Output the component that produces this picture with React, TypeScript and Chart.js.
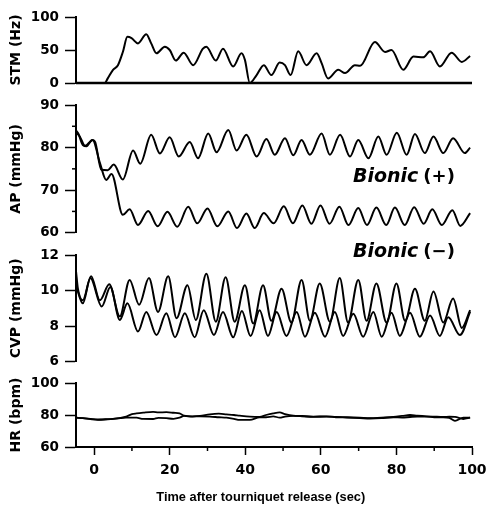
import React, { useEffect, useRef } from "react";
import { Chart, registerables } from "chart.js";

Chart.register(...registerables);

type P = [number, number];

// ---------- axes / ticks ----------
const X_MIN = -4.8;
const X_MAX = 100;
const X_TICKS = [0, 20, 40, 60, 80, 100];
const X_MINOR_TICKS = [10, 30, 50, 70, 90];
const X_TITLE = "Time after tourniquet release (sec)";
const X_TITLE_AT = 44.1;

const STM_TICKS = [0, 50, 100];
const STM_BASELINE = 0;
const AP_TICKS = [60, 70, 80, 90];
const AP_MINOR_TICKS = [65, 75, 85];
const CVP_TICKS = [6, 8, 10, 12];
const HR_TICKS = [60, 80, 100];

// ---------- series ----------
const STM: P[] = [
  [-4.8, 0], [2.8, 0], [3.6, 7], [5, 20], [6.3, 27], [7.6, 47], [8.8, 70], [9.9, 68],
  [11.6, 60], [13.8, 74], [15.1, 60], [16.5, 45], [18.7, 55], [20, 50], [21.6, 34],
  [23.7, 46], [26.2, 27], [28.8, 52], [29.7, 55], [32.2, 34], [34.1, 52], [36.8, 25],
  [39, 45], [39.9, 35], [41.2, 0], [43, 12], [44.9, 27], [46.9, 12], [49.1, 31],
  [50.5, 27], [52, 12], [54, 48], [56.2, 27], [58.9, 45], [60.2, 30], [61.9, 7],
  [64.6, 20], [66.4, 15], [69, 27], [70.4, 26], [74.3, 62], [77, 47], [78.7, 50],
  [81.8, 20], [84.5, 40], [87.1, 39], [88.9, 48], [91.5, 25], [94.6, 46], [97.3, 32],
  [99.5, 41],
];

const AP_PLUS: P[] = [
  [-4.8, 84], [-4.2, 83.3], [-3.0, 80.6], [-2.0, 80.3], [-0.5, 81.8], [0.3, 81.2],
  [1.9, 74.8], [3.6, 74.7], [5.2, 76.0], [7.6, 72.5], [10.3, 79.3], [12.2, 76.2],
  [15.1, 83.0], [17.4, 78.6], [20.0, 82.4], [22.4, 77.9], [25.3, 81.3], [27.5, 77.5],
  [30.2, 83.3], [32.4, 78.9], [35.5, 84.1], [37.7, 79.3], [40.3, 83.0], [43.0, 77.9],
  [45.6, 82.0], [47.8, 78.3], [50.5, 82.2], [52.7, 78.2], [54.9, 81.8], [57.1, 78.3],
  [60.2, 83.3], [62.4, 78.3], [65.1, 83.0], [67.7, 77.9], [69.9, 81.8], [72.6, 77.5],
  [75.2, 82.6], [77.4, 78.3], [80.1, 83.5], [82.7, 78.3], [84.9, 83.2], [87.5, 78.7],
  [89.8, 82.6], [92.4, 78.7], [95.0, 82.2], [98.1, 78.7], [99.5, 80.0],
];

const AP_MINUS: P[] = [
  [-4.8, 83.6], [-3.8, 82.6], [-2.4, 80.4], [-0.4, 81.8], [1.5, 76.5], [3.2, 72.4],
  [4.6, 73.8], [7.6, 64.2], [9.4, 65.5], [11.6, 61.8], [14.3, 65.1], [16.8, 61.5],
  [19.4, 64.9], [22.0, 61.4], [24.9, 66.1], [27.3, 62.2], [30.0, 65.7], [32.6, 61.5],
  [35.5, 65.0], [37.8, 61.1], [40.3, 64.5], [42.5, 61.1], [44.9, 64.6], [47.5, 62.2],
  [50.2, 66.2], [52.6, 62.2], [55.1, 66.4], [57.5, 62.1], [59.9, 66.4], [62.3, 62.1],
  [64.9, 66.1], [67.3, 61.8], [69.9, 65.8], [72.2, 61.8], [74.7, 65.9], [77.3, 61.8],
  [79.6, 65.9], [82.2, 61.8], [84.7, 66.0], [87.2, 62.1], [89.5, 65.5], [92.0, 61.8],
  [94.8, 65.3], [96.9, 61.6], [99.5, 64.6],
];

const CVP_PLUS: P[] = [
  [-4.8, 11.1], [-4.3, 10.1], [-3, 9.45], [-0.8, 10.8], [1.5, 9.45], [4, 10.35], [6.8, 8.55],
  [9.4, 10.6], [11.9, 9.2], [14.5, 10.7], [16.9, 8.8], [19.6, 10.8], [21.8, 8.45],
  [24.7, 10.3], [26.9, 8.35], [29.7, 10.95], [32.2, 8.25], [34.8, 10.75], [37.2, 8.25],
  [39.9, 10.3], [42.1, 8.15], [44.7, 10.3], [46.9, 8.3], [49.6, 10.1], [52.2, 8.2],
  [54.9, 10.6], [57.1, 8.3], [59.7, 10.4], [62.4, 8.25], [65, 10.7], [67.2, 8.2],
  [69.9, 10.6], [72.1, 8.3], [74.7, 10.4], [77.4, 8.2], [80, 10.4], [82.3, 8.3],
  [84.9, 10.1], [87.5, 8.3], [89.8, 9.95], [92.4, 8.2], [95, 9.55], [97.3, 7.9],
  [99.5, 8.9],
];

const CVP_MINUS: P[] = [
  [-4.8, 10.3], [-3, 9.28], [-1, 10.7], [2, 9.1], [4.3, 10.2], [6.8, 8.35],
  [8.8, 9.28], [11.6, 7.7], [13.8, 8.8], [16.5, 7.5], [19.1, 8.72], [21.4, 7.37],
  [24, 8.72], [26.6, 7.37], [29, 8.9], [31.7, 7.5], [34.1, 8.8], [36.8, 7.37],
  [39.1, 8.85], [41.4, 7.44], [43.8, 8.9], [46, 7.45], [48.3, 8.8], [50.9, 7.45],
  [53.6, 8.8], [55.8, 7.4], [58.4, 8.75], [61.1, 7.4], [63.7, 8.8], [65.9, 7.45],
  [68.6, 8.7], [71.2, 7.4], [73.9, 8.8], [76.1, 7.4], [78.7, 8.75], [80.9, 7.45],
  [83.6, 8.75], [86.2, 7.4], [88.9, 8.6], [91.5, 7.45], [93.7, 8.5], [96.8, 7.5],
  [99.5, 8.8],
];

const HR_PLUS: P[] = [
  [-4.8, 78.3], [-3, 78], [-1, 77.6], [1, 77.2], [3, 77.4], [5, 77.6], [7, 78.2],
  [8.5, 79], [10, 80.5], [11.2, 81], [13, 81.5], [15.6, 82], [17, 81.6], [19.1, 81.8],
  [21, 81.4], [22.6, 81], [23.8, 79.6], [26, 79.2], [28, 79.4], [30.6, 80.4], [33, 80.8],
  [35, 80.4], [37, 80], [38.5, 79.6], [41.2, 79], [43.8, 78.8], [45.5, 80], [47.4, 81],
  [49.1, 81.6], [50.5, 80.6], [52.7, 79.6], [55, 79.4], [58, 79], [61.5, 79.2], [64, 78.8],
  [67, 78.6], [70.3, 78.3], [73, 78], [76, 78.4], [79.2, 78.8], [81.5, 79.4], [83.6, 80],
  [85.5, 79.6], [88, 79.2], [90, 79], [92.4, 78.8], [94, 78.9], [95.5, 78.8], [97.7, 77.5],
  [99.5, 78.3],
];

const HR_MINUS: P[] = [
  [-4.8, 78.3], [-3, 78], [-1, 77.4], [1, 77], [3, 77.2], [5, 77.6], [7, 78],
  [8.5, 78.4], [11.2, 78.3], [13, 77.6], [15.6, 77.5], [17, 78.2], [19.1, 78], [21, 77.6],
  [22.6, 78.3], [23.8, 79.4], [26, 79], [28, 79.2], [30.6, 79], [33, 78.6], [35, 78.3],
  [37, 77.6], [38.5, 76.9], [41.2, 76.9], [43.8, 78.6], [45.5, 78.6], [47.4, 79.2],
  [49.1, 78.3], [50.5, 79], [52.7, 79.4], [55, 79.2], [58, 78.8], [61.5, 79], [64, 78.6],
  [67, 78.4], [70.3, 78.1], [73, 77.8], [76, 78], [79.2, 78.6], [81.5, 78.4], [83.6, 78.75],
  [85.5, 79], [88, 79], [90, 78.6], [92.4, 78.6], [94, 78.2], [95.5, 76.3], [97.7, 78.3],
  [99.5, 78.3],
];

// annotation labels (anchored in x / AP-axis values)
const ANNOTATIONS = [
  { name: "Bionic", sign: "(+)", x: 68.5, ap: 72.0 },
  { name: "Bionic", sign: "(\u2212)", x: 68.5, ap: 54.2 },
];

const toXY = (arr: P[]) => arr.map(([x, y]) => ({ x, y }));

const TICK_FONT = { family: "DejaVu Sans", size: 13.5, weight: "bold" as const };
const Y_TITLE_FONT = { family: "DejaVu Sans", size: 14, weight: "bold" as const };
const AXIS_W = 76;

function yAxis(
  min: number, max: number, weight: number, order: number, title: string, ticks: number[]
) {
  return {
    type: "linear",
    position: "left",
    stack: "panels",
    stackWeight: weight,
    weight: order,
    min,
    max,
    afterBuildTicks: (s: any) => {
      s.ticks = ticks.map((v) => ({ value: v }));
    },
    afterFit: (s: any) => {
      s.width = AXIS_W;
    },
    ticks: { font: TICK_FONT, color: "#000", padding: 6, autoSkip: false },
    grid: {
      drawOnChartArea: false,
      color: "rgba(0,0,0,0)",
      tickLength: 11,
      tickColor: "#000",
      tickWidth: 1.5,
    },
    border: { display: true, color: "#000", width: 2 },
    title: {
      display: true,
      text: title,
      font: Y_TITLE_FONT,
      color: "#000",
      padding: { top: 7.5, bottom: 0 },
    },
  };
}

function gapAxis(weight: number, order: number) {
  return {
    type: "linear",
    position: "left",
    stack: "panels",
    stackWeight: weight,
    weight: order,
    min: 0,
    max: 1,
    afterFit: (s: any) => {
      s.width = AXIS_W;
    },
    ticks: { display: false },
    grid: { display: false },
    border: { display: false },
    title: { display: false },
  };
}

const decorPlugin = {
  id: "decor",
  afterDraw(chart: any) {
    const ctx = chart.ctx;
    const xs = chart.scales.x;
    const ap = chart.scales.yAP;
    const ys = chart.scales.yS;
    ctx.save();
    ctx.strokeStyle = "#000";
    // STM zero baseline across the panel
    const y0 = ys.getPixelForValue(STM_BASELINE);
    ctx.lineWidth = 2.5;
    ctx.beginPath();
    ctx.moveTo(xs.left, y0);
    ctx.lineTo(xs.right, y0);
    ctx.stroke();

    ctx.lineWidth = 1.5;
    X_MINOR_TICKS.forEach((v) => {
      const px = xs.getPixelForValue(v);
      ctx.beginPath();
      ctx.moveTo(px, xs.top);
      ctx.lineTo(px, xs.top + 4);
      ctx.stroke();
    });
    AP_MINOR_TICKS.forEach((v) => {
      const py = ap.getPixelForValue(v);
      ctx.beginPath();
      ctx.moveTo(ap.right - 4, py);
      ctx.lineTo(ap.right, py);
      ctx.stroke();
    });
    ctx.fillStyle = "#000";
    ctx.textBaseline = "alphabetic";
    ctx.textAlign = "left";
    ANNOTATIONS.forEach((a) => {
      const px = xs.getPixelForValue(a.x);
      const py = ap.getPixelForValue(a.ap);
      ctx.font = "italic bold 19px 'DejaVu Sans'";
      ctx.fillText(a.name, px, py);
      const w = ctx.measureText(a.name).width;
      ctx.font = "bold 18px 'DejaVu Sans'";
      ctx.fillText(a.sign, px + w + 5, py);
    });
    ctx.font = "bold 12.8px 'Liberation Sans', Arial";
    ctx.textAlign = "center";
    ctx.fillText(X_TITLE, xs.getPixelForValue(X_TITLE_AT), xs.top + 54);
    ctx.restore();
  },
};

function line(data: P[], yAxisID: string) {
  return {
    data: toXY(data),
    yAxisID,
    xAxisID: "x",
    borderColor: "#000",
    borderWidth: 2,
    pointRadius: 0,
    fill: false,
    clip: 3,
    cubicInterpolationMode: "monotone" as const,
  };
}

export default function App() {
  const ref = useRef<HTMLCanvasElement | null>(null);

  useEffect(() => {
    if (!ref.current) return;
    const chart = new Chart(ref.current, {
      type: "line",
      data: {
        datasets: [
          line(STM, "yS"),
          line(AP_PLUS, "yAP"),
          line(AP_MINUS, "yAP"),
          line(CVP_PLUS, "yCVP"),
          line(CVP_MINUS, "yCVP"),
          { ...line(HR_PLUS, "yHR"), borderWidth: 1.8 },
          { ...line(HR_MINUS, "yHR"), borderWidth: 1.8 },
        ],
      },
      options: {
        animation: false,
        responsive: false,
        layout: { padding: { top: 17, left: 0, right: 18, bottom: 0 } },
        plugins: { legend: { display: false }, tooltip: { enabled: false } },
        scales: {
          x: {
            type: "linear",
            position: "bottom",
            min: X_MIN,
            max: X_MAX,
            afterBuildTicks: (s: any) => {
              s.ticks = X_TICKS.map((v) => ({ value: v }));
            },
            afterFit: (s: any) => {
              s.height = 65;
              s.paddingLeft = 0;
              s.paddingRight = 0;
            },
            ticks: {
              font: { family: "DejaVu Sans", size: 14, weight: "bold" },
              color: "#000",
              padding: 7,
              maxRotation: 0,
              autoSkip: false,
            },
            grid: {
              drawOnChartArea: false,
              color: "rgba(0,0,0,0)",
              tickLength: 8,
              tickColor: "#000",
              tickWidth: 1.5,
            },
            border: { display: true, color: "#000", width: 2 },
          },
          yS: yAxis(0, 100, 66, 7, "STM (Hz)", STM_TICKS),
          g1: gapAxis(22, 6),
          yAP: yAxis(60, 90, 127.7, 5, "AP (mmHg)", AP_TICKS),
          g2: gapAxis(22.3, 4),
          yCVP: yAxis(6, 12, 106.7, 3, "CVP (mmHg)", CVP_TICKS),
          g3: gapAxis(21.3, 2),
          yHR: yAxis(60, 100, 64, 1, "HR (bpm)", HR_TICKS),
        } as any,
      },
      plugins: [decorPlugin],
    } as any);
    return () => chart.destroy();
  }, []);

  return (
    <div style={{ position: "absolute", left: 0, top: 0, width: 490, height: 512, background: "#fff" }}>
      <canvas ref={ref} width={490} height={512} />
    </div>
  );
}
